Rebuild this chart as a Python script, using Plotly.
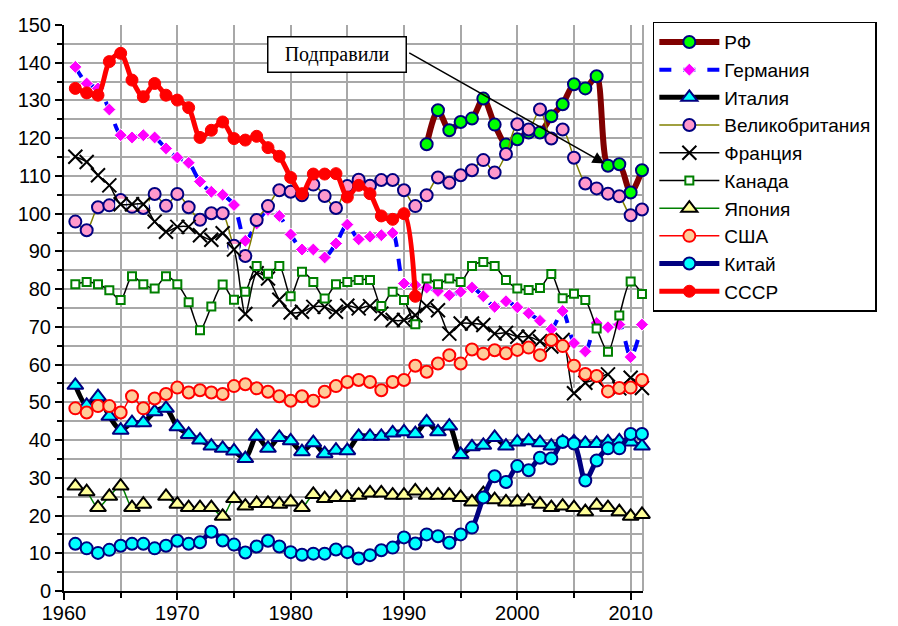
import plotly.graph_objects as go

years = list(range(1961, 2012))
years_rf = list(range(1992, 2012))
years_ussr = list(range(1961, 1992))

rf = [118.4, 127.4, 122.1, 124.3, 125.2, 130.5, 123.6, 118.3, 119.7, 121.5,
      121.5, 125.8, 129.0, 134.3, 133.2, 136.4, 112.7, 113.1, 105.6, 111.5]

germany = [138.9, 134.5, 133.2, 127.6, 120.8, 120.2, 120.8, 120.2, 117.3, 114.9,
           113.5, 108.5, 105.8, 105.0, 102.3, 92.8, 97.4, 101.0, 99.4, 94.5,
           90.5, 90.5, 88.4, 92.1, 97.1, 93.2, 93.9, 94.3, 94.9, 81.5,
           81.1, 80.4, 79.5, 78.4, 79.3, 80.4, 78.1, 75.3, 76.8, 75.2,
           73.6, 71.6, 69.4, 74.2, 65.7, 63.5, 71.0, 69.9, 70.6, 62.0, 70.6]

italy = [54.5, 49.2, 51.5, 46.3, 42.6, 44.6, 44.6, 47.5, 48.4, 43.5,
         41.5, 40.0, 38.4, 37.8, 37.1, 35.1, 41.0, 37.8, 40.7, 39.8,
         36.9, 39.3, 36.4, 37.3, 37.2, 41.0, 41.0, 41.0, 41.9, 42.2,
         41.7, 44.8, 42.2, 43.7, 36.2, 38.2, 38.6, 40.7, 38.4, 39.5,
         39.8, 39.3, 38.4, 39.5, 39.5, 39.1, 39.1, 39.5, 39.8, 39.5, 38.4]

uk = [97.9, 95.6, 101.7, 102.2, 103.6, 101.8, 101.5, 105.2, 102.1, 105.2,
      101.7, 98.4, 100.1, 100.1, 91.5, 88.8, 98.3, 102.0, 106.2, 105.8,
      104.9, 107.7, 104.7, 101.5, 107.3, 109.0, 107.4, 108.9, 108.9, 106.2,
      102.0, 104.9, 109.6, 108.2, 110.2, 111.5, 114.2, 110.9, 115.8, 123.7,
      122.3, 127.6, 119.9, 122.3, 114.8, 108.0, 106.7, 105.3, 104.6, 99.6, 101.1]

france = [115.1, 113.7, 110.2, 107.5, 102.5, 102.5, 102.5, 97.9, 95.2, 96.5,
          96.5, 94.3, 93.1, 94.8, 90.5, 73.4, 84.2, 82.8, 77.2, 73.8,
          74.0, 75.3, 75.3, 74.0, 75.6, 74.9, 75.5, 73.5, 71.8, 71.8,
          73.1, 75.5, 74.4, 68.2, 70.9, 70.9, 70.5, 68.2, 68.4, 67.4,
          67.4, 66.2, 64.8, 66.5, 52.4, 55.2, 56.0, 57.4, 53.7, 56.5, 53.8]

canada = [81.3, 81.9, 81.3, 79.7, 77.1, 83.4, 81.3, 80.2, 83.4, 81.3,
          76.5, 69.1, 75.4, 81.2, 77.2, 79.3, 86.1, 84.1, 86.1, 78.1,
          84.6, 81.9, 77.5, 81.3, 81.9, 82.4, 82.4, 75.5, 79.3, 77.1,
          70.7, 82.8, 81.3, 82.8, 81.9, 86.1, 87.2, 86.1, 82.4, 80.2,
          79.8, 80.3, 84.0, 77.6, 78.8, 77.1, 69.6, 63.4, 73.0, 82.0, 78.7]

japan = [27.8, 26.3, 22.1, 25.1, 27.8, 22.1, 23.0, None, 25.1, 23.0,
         22.1, 22.1, 22.1, 19.8, 24.5, 22.5, 23.2, 23.2, 23.0, 23.6,
         22.1, 25.6, 24.5, 24.8, 24.8, 25.4, 26.0, 26.0, 25.4, 25.4,
         26.5, 25.4, 25.4, 25.4, 24.8, 23.6, 25.8, 24.2, 23.6, 23.6,
         23.9, 23.0, 22.1, 22.5, 22.1, 21.0, 22.7, 22.1, 21.0, 19.8, 20.3]

usa = [48.4, 47.3, 49.0, 49.0, 47.3, 51.6, 48.4, 51.0, 52.2, 53.9,
       52.6, 53.2, 52.6, 52.2, 54.3, 54.8, 53.7, 52.8, 51.6, 50.4,
       51.6, 50.4, 52.8, 54.3, 55.4, 55.9, 55.4, 53.2, 55.4, 55.9,
       59.7, 58.1, 60.3, 62.5, 60.3, 64.0, 62.9, 63.8, 63.0, 63.9,
       64.5, 62.5, 66.5, 64.9, 59.7, 57.5, 57.0, 52.9, 53.8, 53.9, 55.9]

china = [12.5, 11.3, 10.1, 10.9, 12.0, 12.5, 12.5, 11.3, 12.0, 13.3,
         12.5, 12.9, 15.7, 13.4, 12.3, 10.2, 11.8, 13.3, 11.8, 10.3,
         9.6, 9.9, 9.9, 11.0, 10.3, 8.6, 9.5, 10.8, 11.5, 14.2,
         12.6, 15.0, 14.5, 12.8, 15.0, 16.8, 24.8, 30.4, 28.9, 33.1,
         32.0, 35.3, 35.1, 39.5, 39.1, 29.3, 34.6, 37.8, 37.8, 41.6, 41.6]

ussr = [133.2, 132.0, 131.4, 140.3, 142.5, 135.4, 131.0, 134.5, 131.4, 130.1,
        128.1, 120.2, 122.1, 124.3, 119.9, 119.5, 120.5, 117.5, 115.2, 109.6,
        105.3, 110.5, 110.5, 110.6, 104.4, 107.5, 105.3, 99.4, 98.5, 100.0, 78.1]

x_tick_vals = [1960, 1970, 1980, 1990, 2000, 2010]
y_tick_vals = list(range(0, 151, 10))

SM = 0.8
fig = go.Figure()

def add(name, x, y, lcolor, lwidth, symbol, msize, mfill, mline, mlw, dash="solid"):
    fig.add_trace(go.Scatter(
        x=x, y=y, name=name, mode="lines+markers", cliponaxis=False,
        line=dict(color=lcolor, width=lwidth, dash=dash, shape="spline", smoothing=SM),
        marker=dict(symbol=symbol, size=msize, color=mfill,
                    line=dict(color=mline, width=mlw)),
    ))

add("РФ", years_rf, rf, "#800000", 6, "circle", 12, "#00FF00", "#000080", 2)
add("Германия", years, germany, "#0000FF", 4, "diamond", 10, "#FF00FF", "#FFFFFF", 1, dash="dash")
add("Италия", years, italy, "#000000", 5, "triangle-up", 14, "#00FFFF", "#000080", 2)
add("Великобритания", years, uk, "#808000", 1.5, "circle", 12, "#FF99CC", "#000080", 2)
# white backing of the X markers (as in the original chart)
fig.add_trace(go.Scatter(x=years, y=france, mode="markers", showlegend=False,
                         hoverinfo="skip", cliponaxis=False,
                         marker=dict(symbol="square", size=11, color="#FFFFFF",
                                     line=dict(width=0))))
add("Франция", years, france, "#000000", 1.5, "x-thin-open", 14, "#000000", "#000000", 2)
add("Канада", years, canada, "#000000", 1.5, "square", 8, "#FFFFFF", "#008000", 2)
add("Япония", years, japan, "#008000", 1.5, "triangle-up", 14, "#FFFF99", "#000000", 2)
add("США", years, usa, "#FF0000", 1.5, "circle", 12, "#FFCC99", "#FF0000", 2)
add("Китай", years, china, "#000080", 5, "circle", 12, "#00FFFF", "#000080", 2)
add("СССР", years_ussr, ussr, "#FF0000", 5, "circle", 12, "#FF0000", "#FF0000", 1)

grid = "#A8A8A8"
tickfont = dict(family="Arial, Liberation Sans, sans-serif", size=20, color="black")

fig.update_xaxes(
    range=[1960, 2011.09], tickmode="array", tickvals=x_tick_vals,
    ticks="outside", ticklen=7, tickwidth=2, tickcolor="black",
    ticklabelstandoff=-4,
    showline=True, linecolor="black", linewidth=2, automargin=False,
    showgrid=True, gridcolor=grid, gridwidth=2, zeroline=False,
    minor=dict(dtick=5, tick0=1960, showgrid=True, gridcolor=grid, gridwidth=2,
               ticks="outside", ticklen=5, tickwidth=2, tickcolor="black"),
    tickfont=tickfont,
)
fig.update_yaxes(
    range=[0, 150], tickmode="array", tickvals=y_tick_vals,
    ticks="outside", ticklen=7, tickwidth=2, tickcolor="black",
    showline=True, linecolor="black", linewidth=2, automargin=False,
    showgrid=True, gridcolor=grid, gridwidth=2, zeroline=False,
    minor=dict(dtick=5, tick0=0, showgrid=True, gridcolor=grid, gridwidth=2,
               ticks="outside", ticklen=5, tickwidth=2, tickcolor="black"),
    tickfont=tickfont,
)

fig.add_shape(type="line", xref="paper", yref="paper", x0=1, x1=1, y0=0, y1=1,
              line=dict(color=grid, width=2), layer="below")

fig.add_annotation(x=2007.7, y=113.3, ax=1990.33, ay=142.85, axref="x", ayref="y",
                   xref="x", yref="y", text="", showarrow=True, arrowhead=2,
                   arrowsize=1.6, arrowwidth=1.5, arrowcolor="black", standoff=0)
fig.add_annotation(x=1984.1, y=142.1, xref="x", yref="y", text="Подправили",
                   showarrow=False, xanchor="center", yanchor="middle",
                   font=dict(family="Times New Roman, Liberation Serif, serif", size=20, color="black"),
                   bgcolor="white", bordercolor="black", borderwidth=1.5,
                   borderpad=2, width=133, height=30)

fig.update_layout(
    width=898, height=626,
    margin=dict(l=56, r=263, t=17, b=43, autoexpand=False),
    plot_bgcolor="white", paper_bgcolor="white",
    legend=dict(x=1.017, y=1.006, xanchor="left", yanchor="top",
                font=dict(family="Arial, Liberation Sans, sans-serif", size=19, color="black"),
                bordercolor="black", borderwidth=1.5, bgcolor="white",
                itemwidth=60, tracegroupgap=0),
    showlegend=True,
)

fig.write_html("out.html")
